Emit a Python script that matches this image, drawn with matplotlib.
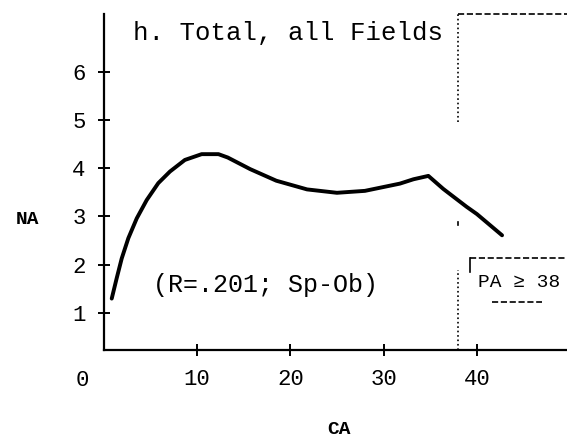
import matplotlib
matplotlib.use("Agg")
import matplotlib.pyplot as plt

# curve (CA vs NA)
ca = [0.86, 1.39, 1.93, 2.64, 3.54, 4.61, 5.85, 7.1, 8.7, 10.5, 12.3, 13.3,
      15.7, 18.5, 21.8, 25.0, 28.0, 30.0, 31.75, 33.2, 34.8, 36.4, 38.9, 40.0, 42.7]
na = [1.30, 1.72, 2.13, 2.55, 2.96, 3.34, 3.69, 3.93, 4.17, 4.29, 4.29, 4.22,
      3.98, 3.74, 3.56, 3.49, 3.53, 3.61, 3.68, 3.77, 3.84, 3.57, 3.2, 3.05, 2.61]

x_ticks = [10, 20, 30, 40]
y_ticks = [1, 2, 3, 4, 5, 6]
cutoff = 38

mono = "Liberation Mono"

fig = plt.figure(figsize=(5.67, 4.41), dpi=100)
ax = fig.add_axes([0.1829, 0.2063, 0.8171, 0.7596])
ax.set_xlim(0, 49.66)
ax.set_ylim(0.235, 7.17)

ax.plot(ca, na, color="black", lw=2.8, solid_capstyle="round", solid_joinstyle="round")

for s in ["top", "right"]:
    ax.spines[s].set_visible(False)
for s in ["left", "bottom"]:
    ax.spines[s].set_linewidth(1.6)
ax.spines["left"].set_bounds(0.235, 7.2)

ax.set_xticks(x_ticks)
ax.set_yticks(y_ticks)
ax.set_xticklabels([str(v) for v in x_ticks], fontfamily=mono, fontsize=16)
ax.set_yticklabels([str(v) for v in y_ticks], fontfamily=mono, fontsize=16)
ax.tick_params(axis="both", direction="inout", length=8, width=1.4, color="black")
ax.tick_params(axis="x", pad=10)
ax.tick_params(axis="y", pad=9)

ax.text(-2.33, -0.39, "0", fontfamily=mono, fontsize=16, ha="center", va="center", clip_on=False)
ax.text(-8.2, 2.93, "NA", fontfamily=mono, fontsize=14, fontweight="bold", ha="center", va="center", clip_on=False)
ax.text(25.2, -1.42, "CA", fontfamily=mono, fontsize=14, fontweight="bold", ha="center", va="center", clip_on=False)

ax.text(3.1, 6.8, "h. Total, all Fields", fontfamily=mono, fontsize=18.5, ha="left", va="center")
ax.text(5.3, 1.58, "(R=.201; Sp-Ob)", fontfamily=mono, fontsize=18, ha="left", va="center")

# dotted cutoff line and the box on the right
dash = dict(color="black", lw=1.2, clip_on=False)
ax.plot([cutoff, cutoff], [4.95, 7.2], ls=":", **dash)
ax.plot([cutoff, cutoff], [2.83, 2.89], ls="-", **dash)
ax.plot([cutoff, cutoff], [0.235, 1.89], ls=":", **dash)
ax.plot([cutoff, 49.66], [7.2, 7.2], ls="--", **dash)
ax.plot([39.3, 49.66], [2.14, 2.14], ls="--", **dash)
ax.plot([39.3, 39.3], [1.84, 2.14], ls="-", **dash)
ax.text(40.1, 1.64, "PA \u2265 38", fontfamily=mono, fontsize=14, ha="left", va="center", clip_on=False)
ax.plot([41.6, 47.0], [1.23, 1.23], ls="--", **dash)

fig.savefig("out.png", dpi=100)
